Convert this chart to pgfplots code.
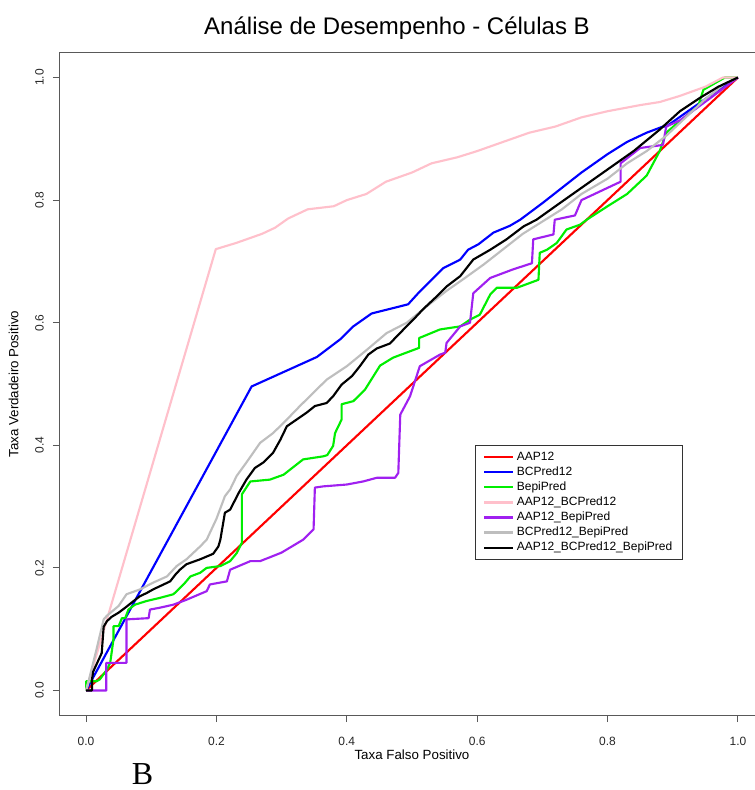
\documentclass[border=0pt]{standalone}
\usepackage{fontspec}
\setmainfont{Liberation Sans}
\newfontfamily\serifB{Liberation Serif}
\usepackage{pgfplots}
\pgfplotsset{compat=1.18}
\definecolor{rred}{RGB}{255,0,0}
\definecolor{rblue}{RGB}{0,0,255}
\definecolor{rgreen}{RGB}{0,238,0}
\definecolor{rpink}{RGB}{255,192,203}
\definecolor{rpurple}{RGB}{160,32,240}
\definecolor{rgray}{RGB}{190,190,190}
\begin{document}
\begin{tikzpicture}
\begin{axis}[
  at={(45pt,56.25pt)}, anchor=south west,
  scale only axis, width=528pt, height=496.5pt,
  xmin=-0.04, xmax=1.04, ymin=-0.04, ymax=1.04,
  axis line style={black!65, line width=0.75pt},
  tick style={black!65, line width=0.75pt},
  tick align=outside, major tick length=5.25pt,
  xtick pos=lower, ytick pos=left,
  xtick={0,0.2,0.4,0.6,0.8,1}, xticklabels={0.0,0.2,0.4,0.6,0.8,1.0},
  ytick={0,0.2,0.4,0.6,0.8,1}, yticklabels={0.0,0.2,0.4,0.6,0.8,1.0},
  ticklabel style={font=\fontsize{9}{10}\selectfont, text=black!85},
  xticklabel style={anchor=center, yshift=-14.25pt},
  yticklabel style={rotate=90, anchor=south, yshift=3.4pt},
  xlabel={Taxa Falso Positivo}, ylabel={Taxa Verdadeiro Positivo},
  label style={font=\fontsize{8}{9}\selectfont, text=black!85},
  every axis x label/.style={at={(axis description cs:0.5,-0.0604)}, anchor=center},
  every axis y label/.style={at={(axis description cs:-0.066,0.5)}, anchor=center, rotate=90},
  legend style={at={(rel axis cs:0.885,0.408)}, anchor=north east, draw=black!80, line width=0.6pt,
    font=\fontsize{9}{10}\selectfont, inner xsep=5.75pt, inner ysep=4pt, row sep=1.4pt,
    nodes={inner ysep=0.8pt, text height=6.5pt, text depth=1.8pt}},
  legend cell align=left,
  legend image code/.code={\draw[#1, line width=1.6pt] (0pt,0pt) -- (17.25pt,0pt); \path (0pt,0pt) -- (21.75pt,0pt);},
  every axis plot/.append style={line width=1.6pt, line join=round},
]
\addplot[rred] coordinates {(0,0) (1,1)};
\addlegendentry{AAP12}
\addplot[rblue] coordinates {(0,0) (0.254,0.496) (0.354,0.544) (0.39,0.573) (0.41,0.594) (0.438,0.615) (0.494,0.630) (0.512,0.651) (0.548,0.689) (0.574,0.703) (0.586,0.719) (0.602,0.728) (0.625,0.747) (0.650,0.758) (0.666,0.768) (0.70,0.795) (0.73,0.82) (0.76,0.845) (0.80,0.875) (0.83,0.895) (0.86,0.91) (0.885,0.92) (0.89,0.92) (0.93,0.95) (0.97,0.98) (1,1)};
\addlegendentry{BCPred12}
\addplot[rgreen] coordinates {(0,0) (0,0.015) (0.016,0.015) (0.021,0.018) (0.032,0.034) (0.037,0.045) (0.042,0.083) (0.042,0.105) (0.050,0.105) (0.055,0.118) (0.060,0.118) (0.065,0.132) (0.075,0.140) (0.093,0.146) (0.113,0.151) (0.134,0.157) (0.142,0.165) (0.152,0.176) (0.160,0.186) (0.175,0.192) (0.185,0.200) (0.206,0.203) (0.221,0.211) (0.231,0.224) (0.239,0.241) (0.239,0.320) (0.252,0.341) (0.282,0.344) (0.303,0.352) (0.333,0.377) (0.364,0.382) (0.370,0.384) (0.379,0.399) (0.382,0.420) (0.392,0.442) (0.392,0.467) (0.410,0.472) (0.428,0.491) (0.451,0.530) (0.471,0.543) (0.511,0.559) (0.511,0.575) (0.543,0.589) (0.574,0.594) (0.589,0.605) (0.604,0.613) (0.620,0.646) (0.630,0.657) (0.661,0.657) (0.694,0.670) (0.696,0.714) (0.707,0.719) (0.722,0.730) (0.737,0.752) (0.758,0.760) (0.768,0.768) (0.80,0.79) (0.83,0.81) (0.85,0.83) (0.86,0.84) (0.87,0.86) (0.88,0.88) (0.89,0.91) (0.911,0.929) (0.939,0.953) (0.947,0.980) (0.98,1.0) (1,1)};
\addlegendentry{BepiPred}
\addplot[rpink] coordinates {(0,0) (0.199,0.72) (0.23,0.73) (0.27,0.745) (0.29,0.755) (0.31,0.77) (0.34,0.785) (0.38,0.79) (0.40,0.80) (0.43,0.81) (0.46,0.83) (0.50,0.845) (0.53,0.86) (0.57,0.87) (0.60,0.88) (0.64,0.895) (0.68,0.91) (0.72,0.92) (0.76,0.935) (0.80,0.945) (0.85,0.955) (0.88,0.96) (0.911,0.970) (0.95,0.985) (0.977,1.0) (1,1)};
\addlegendentry{AAP12\_BCPred12}
\addplot[rpurple] coordinates {(0,0) (0.031,0) (0.031,0.045) (0.062,0.045) (0.062,0.116) (0.096,0.118) (0.098,0.132) (0.113,0.135) (0.134,0.140) (0.154,0.148) (0.185,0.162) (0.190,0.173) (0.216,0.178) (0.221,0.197) (0.252,0.211) (0.267,0.211) (0.30,0.225) (0.333,0.246) (0.349,0.263) (0.351,0.331) (0.364,0.333) (0.400,0.336) (0.425,0.341) (0.446,0.347) (0.474,0.347) (0.479,0.355) (0.482,0.450) (0.497,0.480) (0.512,0.529) (0.543,0.548) (0.551,0.551) (0.553,0.567) (0.574,0.594) (0.589,0.600) (0.594,0.648) (0.620,0.673) (0.655,0.687) (0.684,0.697) (0.686,0.736) (0.717,0.744) (0.719,0.768) (0.75,0.775) (0.76,0.80) (0.79,0.815) (0.82,0.83) (0.82,0.86) (0.85,0.885) (0.885,0.89) (0.89,0.92) (0.911,0.93) (0.952,0.962) (1,1)};
\addlegendentry{AAP12\_BepiPred}
\addplot[rgray] coordinates {(0,0) (0.005,0.02) (0.016,0.067) (0.027,0.116) (0.032,0.122) (0.050,0.138) (0.062,0.157) (0.083,0.165) (0.103,0.176) (0.124,0.186) (0.139,0.203) (0.154,0.214) (0.175,0.235) (0.185,0.246) (0.200,0.28) (0.213,0.317) (0.221,0.328) (0.231,0.350) (0.246,0.372) (0.267,0.404) (0.287,0.420) (0.308,0.442) (0.328,0.464) (0.349,0.486) (0.369,0.507) (0.400,0.529) (0.431,0.556) (0.461,0.583) (0.492,0.600) (0.523,0.627) (0.553,0.652) (0.58,0.672) (0.61,0.695) (0.64,0.72) (0.67,0.745) (0.70,0.765) (0.73,0.785) (0.76,0.81) (0.80,0.835) (0.83,0.86) (0.86,0.88) (0.89,0.905) (0.92,0.935) (0.95,0.965) (0.98,0.99) (1,1)};
\addlegendentry{BCPred12\_BepiPred}
\addplot[black] coordinates {(0,0) (0.009,0.0) (0.009,0.018) (0.011,0.031) (0.024,0.061) (0.027,0.104) (0.032,0.113) (0.039,0.120) (0.050,0.127) (0.060,0.135) (0.073,0.146) (0.083,0.154) (0.093,0.159) (0.103,0.165) (0.113,0.170) (0.129,0.178) (0.137,0.189) (0.144,0.197) (0.154,0.206) (0.175,0.214) (0.195,0.223) (0.203,0.235) (0.206,0.246) (0.213,0.290) (0.221,0.295) (0.234,0.322) (0.246,0.344) (0.259,0.363) (0.272,0.372) (0.287,0.388) (0.298,0.409) (0.308,0.431) (0.323,0.442) (0.338,0.453) (0.351,0.464) (0.369,0.469) (0.379,0.480) (0.392,0.499) (0.408,0.513) (0.420,0.529) (0.433,0.548) (0.446,0.558) (0.466,0.566) (0.487,0.589) (0.502,0.605) (0.517,0.622) (0.538,0.643) (0.553,0.659) (0.574,0.676) (0.594,0.703) (0.620,0.719) (0.645,0.736) (0.671,0.757) (0.691,0.768) (0.72,0.79) (0.76,0.82) (0.80,0.85) (0.84,0.88) (0.88,0.915) (0.911,0.945) (0.942,0.967) (0.97,0.985) (1,1)};
\addlegendentry{AAP12\_BCPred12\_BepiPred}
\end{axis}
\node[font=\fontsize{18}{20}\selectfont] at (297.75pt,571.5pt) {Análise de Desempenho - Células B};
\node[font=\serifB\fontsize{24}{26}\selectfont, anchor=base, inner sep=0pt] at (106.9pt,4.5pt) {B};
\pgfresetboundingbox
\path (0pt,0pt) rectangle (566.25pt,592.5pt);
\end{tikzpicture}
\end{document}
